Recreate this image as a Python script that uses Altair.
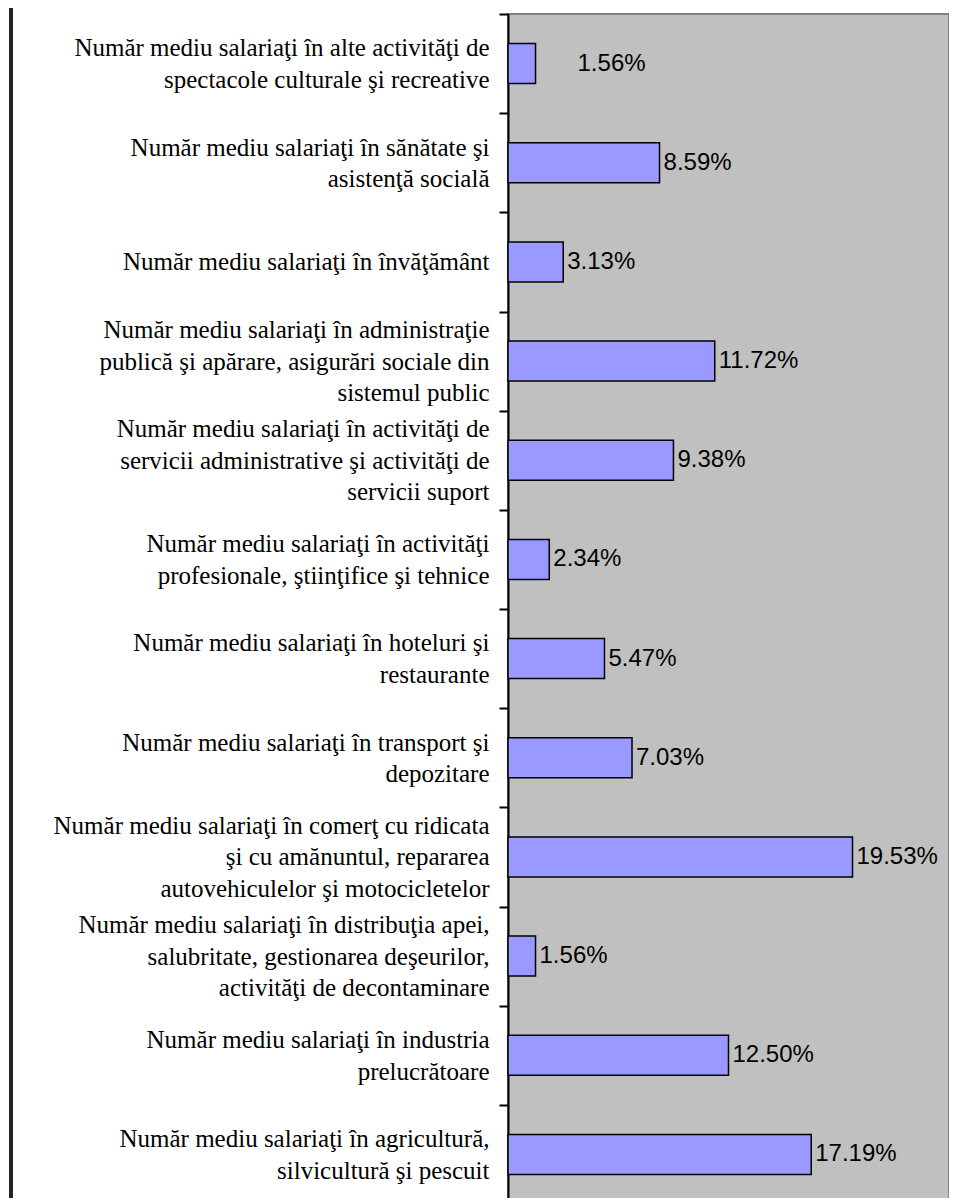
import altair as alt
import pandas as pd

categories = [
    "Număr mediu salariaţi în alte activităţi de|spectacole culturale şi recreative",
    "Număr mediu salariaţi în sănătate şi|asistenţă socială",
    "Număr mediu salariaţi în învăţământ",
    "Număr mediu salariaţi în administraţie|publică şi apărare, asigurări sociale din|sistemul public",
    "Număr mediu salariaţi în activităţi de|servicii administrative şi activităţi de|servicii suport",
    "Număr mediu salariaţi în activităţi|profesionale, ştiinţifice şi tehnice",
    "Număr mediu salariaţi în hoteluri şi|restaurante",
    "Număr mediu salariaţi în transport şi|depozitare",
    "Număr mediu salariaţi în comerţ cu ridicata|şi cu amănuntul, repararea|autovehiculelor şi motocicletelor",
    "Număr mediu salariaţi în distribuţia apei,|salubritate, gestionarea deşeurilor,|activităţi de decontaminare",
    "Număr mediu salariaţi în industria|prelucrătoare",
    "Număr mediu salariaţi în agricultură,|silvicultură şi pescuit",
]
values = [1.56, 8.59, 3.13, 11.72, 9.38, 2.34, 5.47, 7.03, 19.53, 1.56, 12.50, 17.19]

df = pd.DataFrame({"category": categories, "value": values, "idx": list(range(len(values)))})

LINE_H = 31.5

y_enc = alt.Y(
    "category:N",
    sort=categories,
    scale=alt.Scale(paddingInner=0, paddingOuter=0),
    axis=alt.Axis(
        title=None,
        labelExpr="split(datum.label, '|')",
        labelFont="Liberation Serif",
        labelFontSize=25,
        labelColor="black",
        labelLineHeight=LINE_H,
        labelLimit=600,
        labelPadding=10,
        labelAlign="right",
        labelBaseline="middle",
        labelOffset=alt.ExprRef(f"-(length(split(datum.label, '|')) - 1) * {LINE_H / 2}"),
        tickBand="extent",
        tickSize=9,
        tickWidth=2,
        tickColor="black",
        domainColor="black",
        domainWidth=2,
        grid=False,
    ),
)
x_enc = alt.X("value:Q", scale=alt.Scale(domain=[0, 25], nice=False), axis=None)

base = alt.Chart(df)

bars = base.mark_bar(size=40, color="#9999FF", stroke="black", strokeWidth=1.5).encode(x=x_enc, y=y_enc)

labels = base.transform_filter("datum.idx > 0").transform_calculate(
    label="format(datum.value, '.2f') + '%'"
).mark_text(align="left", baseline="middle", dx=4, font="Liberation Sans", fontSize=24, color="black").encode(
    x=x_enc, y=alt.Y("category:N", sort=categories), text="label:N"
)

first_label = base.transform_filter("datum.idx == 0").transform_calculate(
    label="format(datum.value, '.2f') + '%'"
).mark_text(align="left", baseline="middle", dx=42, font="Liberation Sans", fontSize=24, color="black").encode(
    x=x_enc, y=alt.Y("category:N", sort=categories), text="label:N"
)

frame = alt.Chart(df).mark_rule(color="#222222", strokeWidth=2.5).encode(
    x=alt.value(-497), y=alt.value(-20), y2=alt.value(1200)
)

chart = alt.layer(bars, labels, first_label, frame).properties(
    width=441,
    height=1190,
    autosize=alt.AutoSizeParams(type="none"),
    padding={"left": 500, "top": 6, "right": 0, "bottom": 0},
).configure_view(
    fill="#C0C0C0", stroke="#808080", strokeWidth=2
)

chart.save("out.html", embed_options={"renderer": "svg", "actions": False})
